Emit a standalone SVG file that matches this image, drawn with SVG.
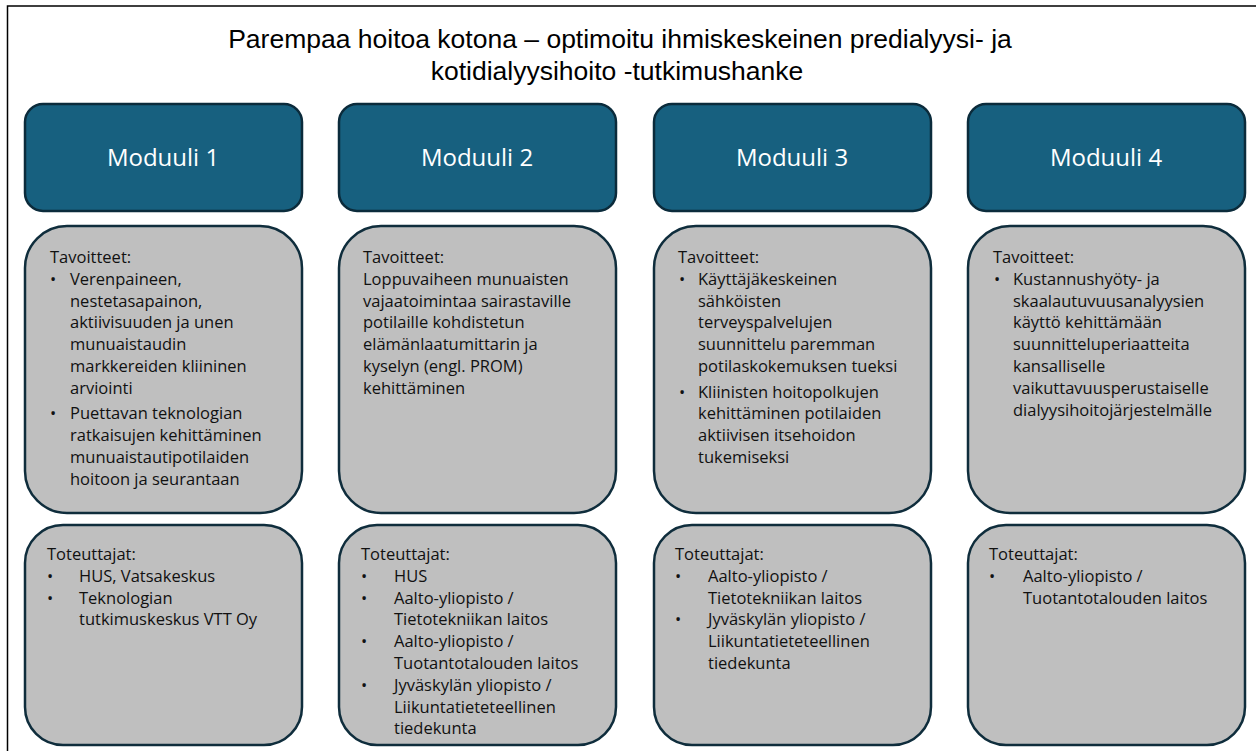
<svg xmlns="http://www.w3.org/2000/svg" width="1256" height="751" viewBox="0 0 1256 751">
<style>
.frame{fill:#ffffff;stroke:#000000;stroke-width:1.5}
.title{font-family:"Liberation Sans",Arial,sans-serif;font-size:26.5px;fill:#000000;text-anchor:middle}
.hdr{fill:#17607f;stroke:#0b2b3b;stroke-width:2.5}
.hdrt{font-family:"Open Sans","Noto Sans",sans-serif;font-size:24px;fill:#ffffff;text-anchor:middle}
.box{fill:#bfbfbf;stroke:#0f2d3c;stroke-width:2.5}
.t{font-family:"Open Sans","Noto Sans",sans-serif;font-size:16.5px;fill:#111111}
</style>
<rect class="frame" x="7.5" y="6" width="1270" height="770"/>
<g id="title">
<text class="title" x="620" y="48">Parempaa hoitoa kotona – optimoitu ihmiskeskeinen predialyysi- ja</text>
<text class="title" x="617" y="80">kotidialyysihoito -tutkimushanke</text>
</g>
<g id="connectors"/>

<g id="moduuli1">
<rect class="hdr" x="25" y="104" width="277" height="107" rx="18"/>
<text class="hdrt" x="163" y="166">Moduuli 1</text>
</g>
<g id="moduuli2">
<rect class="hdr" x="339" y="104" width="277" height="107" rx="18"/>
<text class="hdrt" x="477" y="166">Moduuli 2</text>
</g>
<g id="moduuli3">
<rect class="hdr" x="654" y="104" width="277" height="107" rx="18"/>
<text class="hdrt" x="792" y="166">Moduuli 3</text>
</g>
<g id="moduuli4">
<rect class="hdr" x="968" y="104" width="277" height="107" rx="18"/>
<text class="hdrt" x="1106" y="166">Moduuli 4</text>
</g>

<g id="tavoitteet1">
<rect class="box" x="25" y="226" width="277" height="287" rx="42"/>
<text class="t" x="50" y="263">Tavoitteet:</text>
<text class="t" x="50" y="284.8">•</text>
<text class="t" x="70" y="284.8">Verenpaineen,</text>
<text class="t" x="70" y="306.6">nestetasapainon,</text>
<text class="t" x="70" y="328.4">aktiivisuuden ja unen</text>
<text class="t" x="70" y="350.2">munuaistaudin</text>
<text class="t" x="70" y="372">markkereiden kliininen</text>
<text class="t" x="70" y="393.8">arviointi</text>
<text class="t" x="50" y="419.3">•</text>
<text class="t" x="70" y="419.3">Puettavan teknologian</text>
<text class="t" x="70" y="441.1">ratkaisujen kehittäminen</text>
<text class="t" x="70" y="462.9">munuaistautipotilaiden</text>
<text class="t" x="70" y="484.7">hoitoon ja seurantaan</text>
</g>
<g id="tavoitteet2">
<rect class="box" x="339" y="226" width="277" height="287" rx="42"/>
<text class="t" x="363" y="263">Tavoitteet:</text>
<text class="t" x="363" y="284.8">Loppuvaiheen munuaisten</text>
<text class="t" x="363" y="306.6">vajaatoimintaa sairastaville</text>
<text class="t" x="363" y="328.4">potilaille kohdistetun</text>
<text class="t" x="363" y="350.2">elämänlaatumittarin ja</text>
<text class="t" x="363" y="372">kyselyn (engl. PROM)</text>
<text class="t" x="363" y="393.8">kehittäminen</text>
</g>
<g id="tavoitteet3">
<rect class="box" x="654" y="226" width="277" height="287" rx="42"/>
<text class="t" x="678" y="263">Tavoitteet:</text>
<text class="t" x="679" y="284.8">•</text>
<text class="t" x="698" y="284.8">Käyttäjäkeskeinen</text>
<text class="t" x="698" y="306.6">sähköisten</text>
<text class="t" x="698" y="328.4">terveyspalvelujen</text>
<text class="t" x="698" y="350.2">suunnittelu paremman</text>
<text class="t" x="698" y="372">potilaskokemuksen tueksi</text>
<text class="t" x="679" y="397.5">•</text>
<text class="t" x="698" y="397.5">Kliinisten hoitopolkujen</text>
<text class="t" x="698" y="419.3">kehittäminen potilaiden</text>
<text class="t" x="698" y="441.1">aktiivisen itsehoidon</text>
<text class="t" x="698" y="462.9">tukemiseksi</text>
</g>
<g id="tavoitteet4">
<rect class="box" x="968" y="226" width="277" height="287" rx="42"/>
<text class="t" x="993" y="263">Tavoitteet:</text>
<text class="t" x="994" y="284.8">•</text>
<text class="t" x="1013" y="284.8">Kustannushyöty- ja</text>
<text class="t" x="1013" y="306.6">skaalautuvuusanalyysien</text>
<text class="t" x="1013" y="328.4">käyttö kehittämään</text>
<text class="t" x="1013" y="350.2">suunnitteluperiaatteita</text>
<text class="t" x="1013" y="372">kansalliselle</text>
<text class="t" x="1013" y="393.8">vaikuttavuusperustaiselle</text>
<text class="t" x="1013" y="415.6">dialyysihoitojärjestelmälle</text>
</g>

<g id="toteuttajat1">
<rect class="box" x="25" y="525" width="277" height="220" rx="38"/>
<text class="t" x="47" y="560">Toteuttajat:</text>
<text class="t" x="47" y="581.8">•</text>
<text class="t" x="79" y="581.8">HUS, Vatsakeskus</text>
<text class="t" x="47" y="603.6">•</text>
<text class="t" x="79" y="603.6">Teknologian</text>
<text class="t" x="79" y="625.4">tutkimuskeskus VTT Oy</text>
</g>
<g id="toteuttajat2">
<rect class="box" x="339" y="525" width="277" height="220" rx="38"/>
<text class="t" x="361" y="560">Toteuttajat:</text>
<text class="t" x="361" y="581.8">•</text>
<text class="t" x="394" y="581.8">HUS</text>
<text class="t" x="361" y="603.6">•</text>
<text class="t" x="394" y="603.6">Aalto-yliopisto /</text>
<text class="t" x="394" y="625.4">Tietotekniikan laitos</text>
<text class="t" x="361" y="647.2">•</text>
<text class="t" x="394" y="647.2">Aalto-yliopisto /</text>
<text class="t" x="394" y="669">Tuotantotalouden laitos</text>
<text class="t" x="361" y="690.8">•</text>
<text class="t" x="394" y="690.8">Jyväskylän yliopisto /</text>
<text class="t" x="394" y="712.6">Liikuntatieteteellinen</text>
<text class="t" x="394" y="734.4">tiedekunta</text>
</g>
<g id="toteuttajat3">
<rect class="box" x="654" y="525" width="277" height="220" rx="38"/>
<text class="t" x="675" y="560">Toteuttajat:</text>
<text class="t" x="675" y="581.8">•</text>
<text class="t" x="708" y="581.8">Aalto-yliopisto /</text>
<text class="t" x="708" y="603.6">Tietotekniikan laitos</text>
<text class="t" x="675" y="625.4">•</text>
<text class="t" x="708" y="625.4">Jyväskylän yliopisto /</text>
<text class="t" x="708" y="647.2">Liikuntatieteteellinen</text>
<text class="t" x="708" y="669">tiedekunta</text>
</g>
<g id="toteuttajat4">
<rect class="box" x="968" y="525" width="277" height="220" rx="38"/>
<text class="t" x="989" y="560">Toteuttajat:</text>
<text class="t" x="989" y="581.8">•</text>
<text class="t" x="1023" y="581.8">Aalto-yliopisto /</text>
<text class="t" x="1023" y="603.6">Tuotantotalouden laitos</text>
</g>
</svg>
